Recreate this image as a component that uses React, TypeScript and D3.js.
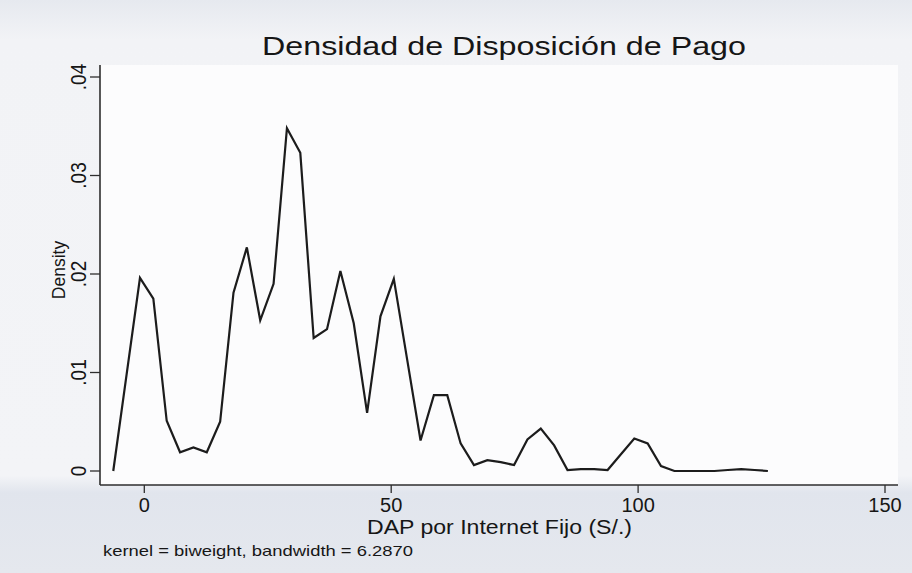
import React from "react";
import * as d3 from "d3";

const W = 912;
const H = 573;

// kdensity evaluation points (DAP, S/.)
const gridX = [
  -6.287, -3.581, -0.876, 1.83, 4.535, 7.241, 9.947, 12.652, 15.358, 18.063,
  20.769, 23.475, 26.18, 28.886, 31.591, 34.297, 37.002, 39.708, 42.414, 45.119,
  47.825, 50.53, 53.236, 55.942, 58.647, 61.353, 64.058, 66.764, 69.47, 72.175,
  74.881, 77.586, 80.292, 82.997, 85.703, 88.409, 91.114, 93.82, 96.525, 99.231,
  101.937, 104.642, 107.348, 110.053, 112.759, 115.465, 118.17, 120.876, 123.581, 126.287,
];

// estimated density values
const density = [
  0.0, 0.0098, 0.0196, 0.0175, 0.0051, 0.0019, 0.0024, 0.0019, 0.005, 0.0181,
  0.0227, 0.0153, 0.019, 0.0348, 0.0323, 0.0135, 0.0144, 0.0203, 0.015, 0.0059,
  0.0157, 0.0195, 0.0113, 0.0031, 0.0077, 0.0077, 0.0028, 0.0006, 0.0011, 0.0009,
  0.0006, 0.0032, 0.0043, 0.0026, 0.0001, 0.0002, 0.0002, 0.0001, 0.0017, 0.0033,
  0.0028, 0.0005, 0.0, 0.0, 0.0, 0.0, 0.0001, 0.0002, 0.0001, 0.0,
];

const xTicks = [0, 50, 100, 150];
const xTickLabels = ["0", "50", "100", "150"];
const yTicks = [0, 0.01, 0.02, 0.03, 0.04];
const yTickLabels = ["0", ".01", ".02", ".03", ".04"];

const title = "Densidad de Disposición de Pago";
const xTitle = "DAP por Internet Fijo (S/.)";
const yTitle = "Density";
const note = "kernel = biweight, bandwidth = 6.2870";

export default function App() {
  const plotL = 100;
  const plotR = 898;
  const plotT = 65;
  const plotB = 485;

  const x = d3.scaleLinear().domain([0, 150]).range([144.3, 885]);
  const y = d3.scaleLinear().domain([0, 0.04]).range([471, 77]);

  const pts: [number, number][] = gridX.map((gx, i) => [gx, density[i]]);
  const line = d3
    .line<[number, number]>()
    .x((d) => x(d[0]))
    .y((d) => y(d[1]));

  const font = "Liberation Sans, Arial, Helvetica, sans-serif";
  const ink = "#161616";
  const axisInk = "#2e2e2e";

  return (
    <svg
      width={W}
      height={H}
      style={{ position: "absolute", left: 0, top: 0 }}
      fontFamily={font}
    >
      <defs>
        <linearGradient id="bgv" x1="0" y1="0" x2="0" y2="1">
          <stop offset="0" stopColor="#e6e9ef" />
          <stop offset="0.07" stopColor="#f2f3f6" />
          <stop offset="0.83" stopColor="#f3f4f7" />
          <stop offset="0.86" stopColor="#e1e5ed" />
          <stop offset="1" stopColor="#e5e8ee" />
        </linearGradient>
      </defs>
      <rect x={0} y={0} width={W} height={H} fill="url(#bgv)" />
      <rect
        x={plotL}
        y={plotT}
        width={plotR - plotL}
        height={plotB - plotT}
        fill="#fcfcfd"
      />

      {/* title */}
      <text
        x={(262 + 746) / 2}
        y={55}
        fontSize={26}
        textAnchor="middle"
        fill={ink}
        textLength={484}
        lengthAdjust="spacingAndGlyphs"
      >
        {title}
      </text>

      {/* y axis */}
      <line x1={plotL} x2={plotL} y1={plotT} y2={plotB} stroke={axisInk} strokeWidth={1.6} />
      {yTicks.map((t, i) => (
        <g key={"yt" + i}>
          <line x1={plotL - 10} x2={plotL} y1={y(t)} y2={y(t)} stroke={axisInk} strokeWidth={1.3} />
          <text
            transform={`translate(${86},${y(t)}) scale(1.15,1) rotate(-90)`}
            fontSize={19}
            textAnchor="middle"
            fill={ink}
          >
            {yTickLabels[i]}
          </text>
        </g>
      ))}
      <text
        transform={`translate(${65},${270}) scale(1.1,1) rotate(-90)`}
        fontSize={17.5}
        textAnchor="middle"
        fill={ink}
      >
        {yTitle}
      </text>

      {/* x axis */}
      <line x1={plotL} x2={plotR} y1={plotB} y2={plotB} stroke={axisInk} strokeWidth={1.6} />
      {xTicks.map((t, i) => (
        <g key={"xt" + i}>
          <line x1={x(t)} x2={x(t)} y1={plotB} y2={plotB + 8} stroke={axisInk} strokeWidth={1.3} />
          <text x={x(t)} y={512} fontSize={20} textAnchor="middle" fill={ink}>
            {xTickLabels[i]}
          </text>
        </g>
      ))}
      <text
        x={(367 + 632) / 2}
        y={534}
        fontSize={20}
        textAnchor="middle"
        fill={ink}
        textLength={265}
        lengthAdjust="spacingAndGlyphs"
      >
        {xTitle}
      </text>

      {/* note */}
      <text
        x={103}
        y={556}
        fontSize={15}
        fill={ink}
        textLength={310}
        lengthAdjust="spacingAndGlyphs"
      >
        {note}
      </text>

      {/* density curve */}
      <path
        d={line(pts) || ""}
        fill="none"
        stroke="#1c1c1c"
        strokeWidth={2.2}
        strokeLinejoin="miter"
      />
    </svg>
  );
}
